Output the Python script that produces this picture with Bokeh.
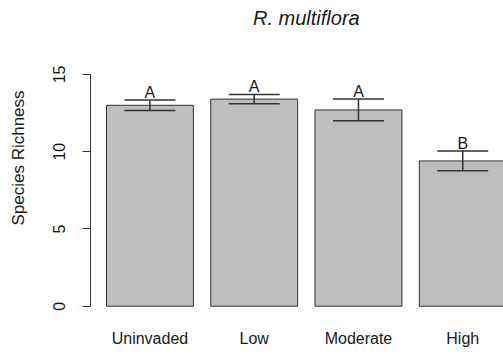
from bokeh.core.properties import value
from bokeh.embed import file_html
from bokeh.models import (ColumnDataSource, FixedTicker, Label, Range1d,
                          TeeHead, Whisker)
from bokeh.plotting import figure
from bokeh.resources import INLINE

# Mean species richness (+/- SE) by invasion level of R. multiflora
categories = ["Uninvaded", "Low", "Moderate", "High"]
richness = [13.0, 13.4, 12.7, 9.4]
std_err = [0.34, 0.3, 0.7, 0.64]
letters = ["A", "A", "A", "B"]
y_ticks = [0, 5, 10, 15]

FONT = "Liberation Sans"
TEXT_COLOR = "#1a1a1a"

# barplot-style layout: unit-width bars separated by a 0.2 gap
centers = [0.7 + 1.2 * i for i in range(len(categories))]
upper = [m + s for m, s in zip(richness, std_err)]
lower = [m - s for m, s in zip(richness, std_err)]

source = ColumnDataSource(dict(
    x=centers, top=richness, upper=upper, lower=lower, letter=letters,
))

# the frame reaches the top of the canvas so the title can sit inside it
p = figure(
    width=503, height=354, title=None,
    x_range=Range1d(0.016, 4.769), y_range=Range1d(-0.6, 19.78),
    output_backend="svg", toolbar_location=None,
    min_border_left=90, min_border_right=0,
    min_border_top=0, min_border_bottom=39,
)
p.outline_line_color = None
p.xgrid.visible = False
p.ygrid.visible = False
p.background_fill_color = "white"
p.border_fill_color = "white"

p.vbar(x="x", top="top", bottom=0, width=1.0, source=source,
       fill_color="#BEBEBE", line_color="#333333", line_width=1)

err = Whisker(
    base="x", upper="upper", lower="lower", source=source, level="overlay",
    line_color="#333333", line_width=1.5,
    upper_head=TeeHead(size=51, line_color="#333333", line_width=1.5),
    lower_head=TeeHead(size=51, line_color="#333333", line_width=1.5),
)
p.add_layout(err)

p.text(x="x", y="upper", text="letter", source=source,
       text_align="center", text_baseline="bottom", y_offset=1,
       text_font=value(FONT), text_font_size="16px", text_color=TEXT_COLOR)

# Title, italic species name centred over the plotting region
p.add_layout(Label(
    x=2.5, y=18.68, text="R. multiflora",
    text_align="center", text_baseline="middle",
    text_font=FONT, text_font_size="20px", text_font_style="italic",
    text_color=TEXT_COLOR,
))

# x axis: category names only
xa = p.xaxis[0]
xa.ticker = FixedTicker(ticks=centers)
xa.major_label_overrides = {c: name for c, name in zip(centers, categories)}
xa.axis_line_color = None
xa.major_tick_line_color = None
xa.minor_tick_line_color = None
xa.major_label_standoff = 8
xa.major_label_text_font = FONT
xa.major_label_text_font_size = "16px"
xa.major_label_text_color = TEXT_COLOR

# y axis, drawn only over 0-15
ya = p.yaxis[0]
ya.ticker = FixedTicker(ticks=y_ticks)
ya.bounds = (0, 15)
ya.axis_line_color = "#333333"
ya.major_tick_line_color = "#333333"
ya.major_tick_out = 8
ya.major_tick_in = 0
ya.minor_tick_line_color = None
ya.major_label_orientation = "vertical"
ya.major_label_standoff = 17
ya.major_label_text_font = FONT
ya.major_label_text_font_size = "16px"
ya.major_label_text_color = TEXT_COLOR
ya.axis_label = "Species Richness"
ya.axis_label_text_font = FONT
ya.axis_label_text_font_size = "17px"
ya.axis_label_text_font_style = "normal"
ya.axis_label_text_color = TEXT_COLOR
ya.axis_label_standoff = 23

open("out.html", "w").write(file_html(p, INLINE))
